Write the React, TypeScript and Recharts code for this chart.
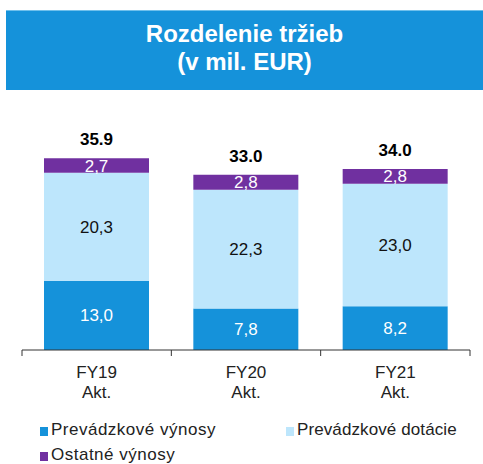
import React from 'react';
import { BarChart, Bar, XAxis, YAxis, LabelList } from 'recharts';

const categories = ['FY19', 'FY20', 'FY21'];
const subLabels = ['Akt.', 'Akt.', 'Akt.'];
const operatingRevenue = [13.0, 7.8, 8.2];
const operatingSubsidies = [20.3, 22.3, 23.0];
const otherRevenue = [2.7, 2.8, 2.8];
const totals = ['35.9', '33.0', '34.0'];
const seriesNames = ['Prevádzkové výnosy', 'Prevádzkové dotácie', 'Ostatné výnosy'];
const titleLines = ['Rozdelenie tržieb', '(v mil. EUR)'];

const COLORS = ['#1592DA', '#BDE6FC', '#7030A0'];
const FONT = '"Liberation Sans", Arial, sans-serif';

const data = categories.map((c, i) => ({
  name: c,
  sub: subLabels[i],
  op: operatingRevenue[i],
  sub2: operatingSubsidies[i],
  other: otherRevenue[i],
  total: totals[i],
}));

const W = 483;
const H = 464;
const MARGIN = { top: 137, right: 13, left: 22, bottom: 64 };
const PLOT_W = W - MARGIN.left - MARGIN.right;
const BAND = PLOT_W / categories.length;

const fmt = (v: any) => Number(v).toFixed(1).replace('.', ',');

const CategoryTick = (props: any) => {
  const { x, y, payload, index } = props;
  const d = data[index] || data.find((r) => r.name === payload.value);
  return (
    <g>
      <line x1={x - BAND / 2} x2={x - BAND / 2} y1={y} y2={y + 6} stroke="#333" strokeWidth={1} />
      {index === categories.length - 1 && (
        <line x1={x + BAND / 2} x2={x + BAND / 2} y1={y} y2={y + 6} stroke="#333" strokeWidth={1} />
      )}
      <text x={x} y={y + 28} textAnchor="middle" fontSize={17} fill="#222" fontFamily={FONT}>
        {payload.value}
      </text>
      <text x={x} y={y + 48} textAnchor="middle" fontSize={17} fill="#222" fontFamily={FONT}>
        {d ? d.sub : ''}
      </text>
    </g>
  );
};

const TotalLabel = (props: any) => {
  const { x, y, width, index } = props;
  return (
    <text
      x={Number(x) + Number(width) / 2}
      y={Number(y) - 13}
      textAnchor="middle"
      fontSize={17}
      fontWeight="bold"
      fill="#000"
      fontFamily={FONT}
    >
      {totals[index]}
    </text>
  );
};

const legendItems = [
  { name: seriesNames[0], color: COLORS[0], left: 40, top: 420, spacing: 0.5 },
  { name: seriesNames[1], color: COLORS[1], left: 286, top: 420, spacing: 0.1 },
  { name: seriesNames[2], color: COLORS[2], left: 40, top: 445, spacing: 0.5 },
];

export default function App() {
  return (
    <div style={{ position: 'absolute', left: 0, top: 0, width: W, height: H, background: '#fff', fontFamily: FONT }}>
      <div
        style={{
          position: 'absolute',
          left: 6,
          top: 10,
          width: W - 6,
          height: 80,
          background: '#1592DA',
          borderTop: '1px solid #6fc0ec',
          boxSizing: 'border-box',
        }}
      />
      {titleLines.map((t, i) => (
        <div
          key={t}
          style={{
            position: 'absolute',
            left: 6,
            width: W - 6,
            top: 20 + i * 28,
            textAlign: 'center',
            color: '#fff',
            fontWeight: 'bold',
            fontSize: 24,
            lineHeight: '28px',
            fontFamily: FONT,
          }}
        >
          {t}
        </div>
      ))}
      <div style={{ position: 'absolute', left: 0, top: 0 }}>
        <BarChart width={W} height={H} data={data} margin={MARGIN} barCategoryGap={22}>
          <XAxis
            dataKey="name"
            height={50}
            tickLine={false}
            tickSize={0}
            tickMargin={0}
            axisLine={{ stroke: '#333', strokeWidth: 1 }}
            tick={<CategoryTick />}
            interval={0}
          />
          <YAxis hide domain={[0, 40]} />
          <Bar dataKey="op" stackId="a" fill={COLORS[0]} isAnimationActive={false} name={seriesNames[0]}>
            <LabelList dataKey="op" position="center" fill="#fff" fontSize={17} fontFamily={FONT} formatter={fmt} />
          </Bar>
          <Bar dataKey="sub2" stackId="a" fill={COLORS[1]} isAnimationActive={false} name={seriesNames[1]}>
            <LabelList dataKey="sub2" position="center" fill="#111" fontSize={17} fontFamily={FONT} formatter={fmt} />
          </Bar>
          <Bar dataKey="other" stackId="a" fill={COLORS[2]} isAnimationActive={false} name={seriesNames[2]}>
            <LabelList dataKey="other" position="center" fill="#fff" fontSize={17} fontFamily={FONT} formatter={fmt} />
            <LabelList dataKey="total" content={<TotalLabel />} />
          </Bar>
        </BarChart>
      </div>
      {legendItems.map((it) => (
        <div
          key={it.name}
          style={{
            position: 'absolute',
            left: it.left,
            top: it.top,
            height: 20,
            display: 'flex',
            alignItems: 'center',
            fontSize: 17,
            lineHeight: '20px',
            letterSpacing: `${it.spacing}px`,
            color: '#222',
            fontFamily: FONT,
            whiteSpace: 'nowrap',
          }}
        >
          <span style={{ display: 'inline-block', width: 8, height: 9, background: it.color, marginRight: 3, marginTop: 3 }} />
          <span>{it.name}</span>
        </div>
      ))}
    </div>
  );
}
